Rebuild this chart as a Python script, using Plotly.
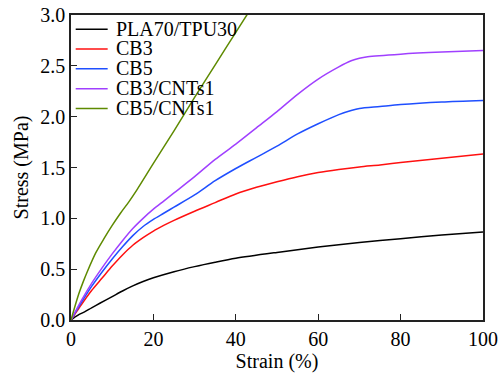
import plotly.graph_objects as go

names = ["PLA70/TPU30", "CB3", "CB5", "CB3/CNTs1", "CB5/CNTs1"]
colors = ["#000000", "#FF1010", "#1F4FFF", "#A040FF", "#5E8A00"]

x_pla = [0, 1, 2, 3.3, 5, 7, 10, 12.5, 15, 17.5, 20, 25, 30, 35, 40, 50, 60, 70, 80, 90, 100]
y_pla = [0, 0.03, 0.055, 0.08, 0.12, 0.165, 0.23, 0.285, 0.335, 0.378, 0.415, 0.475, 0.525, 0.568, 0.607, 0.665, 0.718, 0.763, 0.80, 0.835, 0.865]

x_cb3 = [0, 1, 2.5, 5, 7.5, 10, 12.5, 15, 17.5, 20, 22.5, 25, 30, 35, 40, 45, 50, 55, 60, 65, 70, 75, 80, 90, 100]
y_cb3 = [0, 0.06, 0.15, 0.29, 0.41, 0.53, 0.64, 0.735, 0.81, 0.875, 0.93, 0.98, 1.07, 1.155, 1.24, 1.305, 1.36, 1.41, 1.45, 1.48, 1.505, 1.525, 1.548, 1.59, 1.632]

x_cb5 = [0, 2.5, 5, 7.5, 10, 12.5, 15, 17.5, 20, 22.5, 25, 30, 35, 40, 45, 50, 55, 60, 65, 68, 70, 75, 80, 90, 100]
y_cb5 = [0, 0.17, 0.33, 0.47, 0.60, 0.72, 0.83, 0.92, 0.99, 1.05, 1.11, 1.23, 1.37, 1.49, 1.60, 1.71, 1.83, 1.93, 2.02, 2.06, 2.08, 2.10, 2.12, 2.145, 2.16]

x_cnt3 = [0, 2.5, 5, 7.5, 10, 12.5, 15, 17.5, 20, 22.5, 25, 30, 35, 40, 45, 50, 55, 60, 65, 68, 70, 72, 80, 90, 100]
y_cnt3 = [0, 0.19, 0.36, 0.51, 0.65, 0.78, 0.90, 1.00, 1.09, 1.17, 1.25, 1.41, 1.58, 1.73, 1.89, 2.05, 2.22, 2.37, 2.49, 2.55, 2.575, 2.59, 2.615, 2.635, 2.65]

x_cnt5 = [0, 1, 2, 3, 4, 6, 8, 10, 12, 14, 16, 20, 25, 30, 35, 40, 43]
y_cnt5 = [0, 0.14, 0.27, 0.38, 0.48, 0.66, 0.80, 0.93, 1.05, 1.16, 1.28, 1.54, 1.86, 2.19, 2.51, 2.83, 3.02]

xs = [x_pla, x_cb3, x_cb5, x_cnt3, x_cnt5]
ys = [y_pla, y_cb3, y_cb5, y_cnt3, y_cnt5]

x_ticks = [0, 20, 40, 60, 80, 100]
y_ticks = [0.0, 0.5, 1.0, 1.5, 2.0, 2.5, 3.0]

font = "Liberation Serif, Times New Roman, serif"
FS = 20

fig = go.Figure()
for n, c, xv, yv in zip(names, colors, xs, ys):
    fig.add_trace(go.Scatter(x=xv, y=yv, mode="lines", name=n, showlegend=False,
                             line=dict(color=c, width=1.5, shape="spline", smoothing=0.8)))

# manual legend (compact row spacing as in the reference)
leg_y0 = 0.953
leg_dy = 0.0648
for i, (n, c) in enumerate(zip(names, colors)):
    yy = leg_y0 - i * leg_dy
    fig.add_shape(type="line", xref="paper", yref="paper",
                  x0=0.0114, x1=0.089, y0=yy, y1=yy,
                  line=dict(color=c, width=1.5))
    fig.add_annotation(xref="paper", yref="paper", x=0.105, y=yy + 0.004,
                       xanchor="left", yanchor="middle", showarrow=False,
                       height=17, valign="middle",
                       text=n, font=dict(family=font, size=FS, color="black"))

axis_common = dict(showline=True, linecolor="#222222", linewidth=1.5, mirror=True,
                   ticks="inside", ticklen=6, tickwidth=1.2, tickcolor="#222222",
                   showgrid=False, zeroline=False, automargin=False,
                   tickfont=dict(family=font, size=FS, color="black"))

fig.update_layout(
    width=500, height=374,
    margin=dict(l=71, r=17, t=15, b=54),
    paper_bgcolor="white", plot_bgcolor="white",
    font=dict(family=font, size=FS, color="black"),
    showlegend=False,
    xaxis=dict(range=[0, 100], tickvals=x_ticks,
               title=dict(text="Strain (%)", font=dict(family=font, size=FS), standoff=0),
               **axis_common),
    yaxis=dict(range=[0, 3.0], tickvals=y_ticks, tickformat=".1f",
               title=dict(text="Stress (MPa)", font=dict(family=font, size=FS), standoff=6),
               **axis_common),
)

fig.write_html("out.html")
